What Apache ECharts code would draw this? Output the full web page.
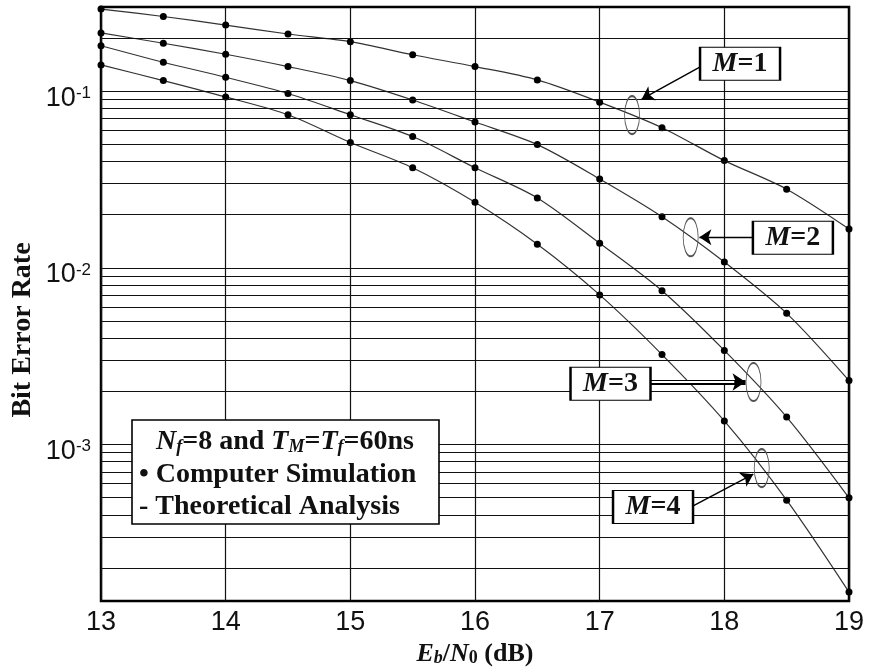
<!DOCTYPE html>
<html>
<head>
<meta charset="utf-8">
<script src="https://cdn.jsdelivr.net/npm/echarts@6/dist/echarts.min.js"></script>
<style>
html, body { margin: 0; padding: 0; background: #fff; }
#chart { width: 869px; height: 672px; }
</style>
</head>
<body>
<div id="chart"></div>
<script>
// Eb/N0 (dB) where the simulation points sit
var ebn0 = [13, 13.5, 14, 14.5, 15, 15.5, 16, 16.5, 17, 17.5, 18, 18.5, 19];

// bit error rate
var berM1 = [0.292, 0.265, 0.237, 0.211, 0.191, 0.161, 0.138, 0.116, 0.0868, 0.0622, 0.0405, 0.0279, 0.0166];
var berM2 = [0.214, 0.187, 0.162, 0.138, 0.115, 0.0893, 0.0670, 0.0499, 0.0319, 0.0195, 0.0108, 0.00553, 0.00230];
var berM3 = [0.181, 0.146, 0.120, 0.0971, 0.0736, 0.0554, 0.0369, 0.0249, 0.0138, 0.00743, 0.00341, 0.00143, 0.000499];
var berM4 = [0.141, 0.115, 0.0929, 0.0736, 0.0513, 0.0369, 0.0235, 0.0136, 0.00703, 0.00323, 0.00136, 0.000484, 0.000146];

var curveNames = ['M=1', 'M=2', 'M=3', 'M=4'];
var xTicks = [13, 14, 15, 16, 17, 18, 19];
var yTicks = [0.1, 0.01, 0.001];

var yMin = 1.3e-4, yMax = 0.3;

// annotation placement, in data units
var notes = [
    {box: [18.126, 0.143], ring: [17.26, 0.0733], from: [17.81, 0.138], to: [17.337, 0.0902]},
    {box: [18.55, 0.0148], ring: [17.73, 0.0149], from: [18.23, 0.0149], to: [17.80, 0.0149]},
    {box: [17.087, 0.00221], ring: [18.234, 0.00226], from: [17.404, 0.00226], to: [18.17, 0.00226], doubled: true},
    {box: [17.428, 0.000443], ring: [18.30, 0.000735], from: [17.746, 0.000448], to: [18.232, 0.000679]}
];

var serif = '"Liberation Serif", "Times New Roman", serif';
var sans = '"Liberation Sans", Arial, sans-serif';
var ink = '#111';

// minor log grid lines (k x 10^d)
var gridValues = [];
for (var d = -4; d <= -1; d++) {
    for (var k = 1; k <= 9; k++) {
        var v = +(k * Math.pow(10, d)).toPrecision(3);
        if (v > yMin * 1.02 && v < yMax * 0.98) gridValues.push(v);
    }
}

function pairs(ys) {
    return ebn0.map(function (x, i) { return [x, ys[i]]; });
}

var boxRich = {
    i: {fontFamily: serif, fontWeight: 'bold', fontStyle: 'italic', fontSize: 28, color: ink},
    n: {fontFamily: serif, fontWeight: 'bold', fontSize: 28, color: ink}
};

function arrowLines(note) {
    var lines = [];
    if (note.doubled) {
        lines.push([
            {coord: note.from, symbol: 'none', lineStyle: {color: '#000', width: 5}},
            {coord: note.to, symbol: 'arrow', symbolSize: 13}
        ]);
        var inner = [note.to[0] - 0.09, note.to[1]];
        lines.push([
            {coord: note.from, symbol: 'none', lineStyle: {color: '#fff', width: 2}},
            {coord: inner, symbol: 'none'}
        ]);
    } else {
        lines.push([
            {coord: note.from, symbol: 'none'},
            {coord: note.to, symbol: 'arrow', symbolSize: 12}
        ]);
    }
    return lines;
}

function curve(idx, ys) {
    var note = notes[idx];
    var parts = curveNames[idx].split('=');
    return {
        name: curveNames[idx],
        type: 'line',
        data: pairs(ys),
        smooth: 0.3,
        symbol: 'circle',
        symbolSize: 7,
        showSymbol: true,
        itemStyle: {color: '#000'},
        lineStyle: {color: '#333', width: 1.2},
        z: 3,
        markLine: {
            silent: true,
            symbol: ['none', 'arrow'],
            symbolSize: 12,
            precision: 8,
            label: {show: false},
            lineStyle: {color: '#000', width: 1.4, type: 'solid'},
            data: arrowLines(note)
        },
        markPoint: {
            silent: true,
            data: [
                {
                    coord: note.ring, symbol: 'circle', symbolSize: [15, 38],
                    itemStyle: {color: 'rgba(0,0,0,0)', borderColor: '#555', borderWidth: 1.3},
                    label: {show: false}
                },
                {
                    coord: note.box, symbol: 'rect', symbolSize: [80, 33],
                    itemStyle: {color: '#fff', borderColor: '#000', borderWidth: 1.6},
                    label: {
                        show: true, position: 'inside',
                        formatter: '{i|' + parts[0] + '}{n|=' + parts[1] + '}',
                        rich: boxRich
                    }
                }
            ]
        }
    };
}

var chart = echarts.init(document.getElementById('chart'));

var option = {
    animation: false,
    backgroundColor: '#fff',
    grid: {
        left: 101, right: 20, top: 7, bottom: 71,
        show: true, borderColor: '#000', borderWidth: 2.5
    },
    xAxis: {
        type: 'value',
        min: 13, max: 19, interval: 1,
        axisLine: {show: false},
        axisTick: {show: false},
        splitLine: {show: true, lineStyle: {color: '#111', width: 1.2}},
        axisLabel: {
            margin: 8, fontFamily: sans, fontSize: 27, color: ink,
            formatter: function (v) { return xTicks.indexOf(v) >= 0 ? String(v) : ''; }
        },
        name: '{i|E}{si|b}{n|/}{i|N}{sn|0}{n| (dB)}',
        nameLocation: 'middle',
        nameGap: 40,
        nameTextStyle: {
            rich: {
                i: {fontFamily: serif, fontWeight: 'bold', fontStyle: 'italic', fontSize: 26, color: ink},
                n: {fontFamily: serif, fontWeight: 'bold', fontSize: 26, color: ink},
                si: {fontFamily: serif, fontWeight: 'bold', fontStyle: 'italic', fontSize: 18, color: ink, verticalAlign: 'bottom'},
                sn: {fontFamily: serif, fontWeight: 'bold', fontSize: 18, color: ink, verticalAlign: 'bottom'}
            }
        }
    },
    yAxis: {
        type: 'log',
        logBase: 10,
        min: yMin, max: yMax,
        axisLine: {show: false},
        axisTick: {show: false},
        splitLine: {show: false},
        axisLabel: {
            margin: 10,
            padding: [14, 0, 0, 0],
            showMinLabel: false,
            showMaxLabel: false,
            formatter: function (v) {
                var e = Math.round(Math.log10(v));
                var hit = yTicks.some(function (t) { return Math.abs(t - v) / t < 1e-6; });
                return hit ? '{b|10}{s|' + e + '}' : '';
            },
            rich: {
                b: {fontFamily: sans, fontSize: 27, color: ink},
                s: {fontFamily: sans, fontSize: 17, color: ink, verticalAlign: 'top'}
            }
        }
    },
    series: [
        {
            name: 'grid',
            type: 'line',
            data: [],
            z: 1,
            markLine: {
                silent: true,
                symbol: ['none', 'none'],
                precision: 8,
                label: {show: false},
                lineStyle: {color: '#111', width: 1.2, type: 'solid'},
                data: gridValues.map(function (g) { return {yAxis: g}; })
            }
        },
        curve(0, berM1),
        curve(1, berM2),
        curve(2, berM3),
        curve(3, berM4)
    ],
    graphic: [
        {
            type: 'text', x: 23, y: 330, rotation: Math.PI / 2, z: 100,
            style: {
                text: 'Bit Error Rate', fill: ink,
                font: 'bold 28px ' + serif,
                align: 'center', verticalAlign: 'middle',
                textAlign: 'center', textVerticalAlign: 'middle'
            }
        },
        {
            type: 'rect', z: 100,
            shape: {x: 132, y: 420, width: 307, height: 104},
            style: {fill: '#fff', stroke: '#000', lineWidth: 1.6}
        },
        {
            type: 'text', x: 285, y: 442, z: 101,
            style: {
                text: '{i|N}{si|f}{n|=8 and }{i|T}{si|M}{n|=}{i|T}{si|f}{n|=60ns}',
                align: 'center', verticalAlign: 'middle',
                textAlign: 'center', textVerticalAlign: 'middle',
                rich: {
                    i: {fontFamily: serif, fontWeight: 'bold', fontStyle: 'italic', fontSize: 28, fill: ink, color: ink},
                    n: {fontFamily: serif, fontWeight: 'bold', fontSize: 28, fill: ink, color: ink},
                    si: {fontFamily: serif, fontWeight: 'bold', fontStyle: 'italic', fontSize: 18, fill: ink, color: ink, verticalAlign: 'bottom'}
                }
            }
        },
        {
            type: 'text', x: 139, y: 475, z: 101,
            style: {
                text: '\u2022 Computer Simulation', fill: ink,
                font: 'bold 28px ' + serif,
                align: 'left', verticalAlign: 'middle',
                textAlign: 'left', textVerticalAlign: 'middle'
            }
        },
        {
            type: 'text', x: 139, y: 507, z: 101,
            style: {
                text: '- Theoretical Analysis', fill: ink,
                font: 'bold 28px ' + serif,
                align: 'left', verticalAlign: 'middle',
                textAlign: 'left', textVerticalAlign: 'middle'
            }
        }
    ]
};

chart.setOption(option);
window.addEventListener('resize', function () { chart.resize(); });
</script>
</body>
</html>
